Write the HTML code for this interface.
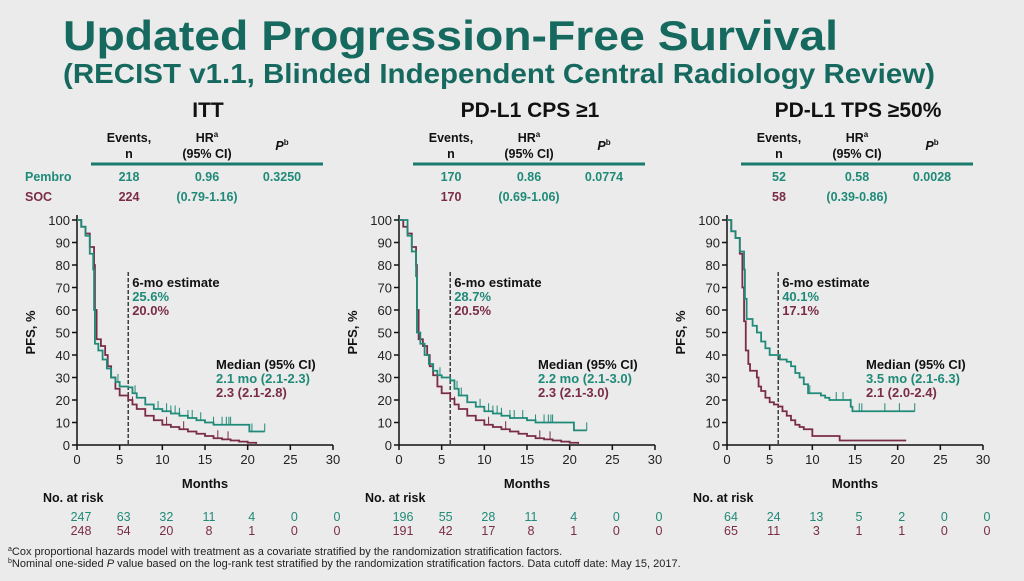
<!DOCTYPE html>
<html><head><meta charset="utf-8">
<style>
html,body{margin:0;padding:0;background:#ebebeb;}
body{width:1024px;height:576px;overflow:hidden;font-family:"Liberation Sans",Arial,sans-serif;}
svg text{font-family:"Liberation Sans",Arial,sans-serif;}
</style></head>
<body>
<svg id="chart" width="1024" height="576" viewBox="0 0 1024 576">
<rect x="0" y="0" width="1024" height="576" fill="#ebebeb"/>
<text x="63" y="50" font-size="42" font-weight="bold" fill="#16695f" textLength="775" lengthAdjust="spacingAndGlyphs">Updated Progression-Free Survival</text>
<text x="63" y="83" font-size="28" font-weight="bold" fill="#16695f" textLength="872" lengthAdjust="spacingAndGlyphs">(RECIST v1.1, Blinded Independent Central Radiology Review)</text>
<text x="8" y="555" font-size="11" fill="#222"><tspan font-size="7" dy="-4">a</tspan><tspan dy="4">Cox proportional hazards model with treatment as a covariate stratified by the randomization stratification factors.</tspan></text>
<text x="8" y="567" font-size="11" fill="#222"><tspan font-size="7" dy="-4">b</tspan><tspan dy="4">Nominal one-sided </tspan><tspan font-style="italic">P</tspan> value based on the log-rank test stratified by the randomization stratification factors. Data cutoff date: May 15, 2017.</text>
<g id="panels"></g>
</svg>
<script>
const TEAL = "#1f8a78", MAROON = "#7a2c47";
const panelTitles = ["ITT", "PD-L1 CPS \u22651", "PD-L1 TPS \u226550%"];
const eventsPembro = ["218", "170", "52"];
const eventsSOC = ["224", "170", "58"];
const hrValues = ["0.96", "0.86", "0.58"];
const hrCIs = ["(0.79-1.16)", "(0.69-1.06)", "(0.39-0.86)"];
const pValues = ["0.3250", "0.0774", "0.0028"];
const est6Pembro = ["25.6%", "28.7%", "40.1%"];
const est6SOC = ["20.0%", "20.5%", "17.1%"];
const medianPembro = ["2.1 mo (2.1-2.3)", "2.2 mo (2.1-3.0)", "3.5 mo (2.1-6.3)"];
const medianSOC = ["2.3 (2.1-2.8)", "2.3 (2.1-3.0)", "2.1 (2.0-2.4)"];
const xTicks = [0, 5, 10, 15, 20, 25, 30];
const yTicks = [0, 10, 20, 30, 40, 50, 60, 70, 80, 90, 100];
const riskPembro = [[247,63,32,11,4,0,0],[196,55,28,11,4,0,0],[64,24,13,5,2,0,0]];
const riskSOC = [[248,54,20,8,1,0,0],[191,42,17,8,1,0,0],[65,11,3,1,1,0,0]];

const ittPembroT = [0,0.5,1,1.5,1.9,2.0,2.1,2.5,3,3.5,4,4.5,5,6,6.5,7,8,9,10,11,12,13,14,15,16,20,20.2,22];
const ittPembroS = [100,97,93,85,78,60,45,42,38,34,30,28,26,25.6,23,21,18,16,15,14,13,12,11,10,9,9,6,6];
const ittSocT = [0,0.5,1,1.5,2,2.1,2.3,2.8,3.3,3.6,4,4.5,5,6,6.5,7,8,9,10,11,12,13,14,15,16,17,18,19,20,21];
const ittSocS = [100,97,94,88,80,60,47,44,40,35,30,25,22,20,18,16,13,11,9,8,7,6,5,4,3,2.5,2,1.5,1,0.5];
const cpsPembroT = [0,1,1.5,2,2.1,2.5,3,3.5,4,4.5,5,6,6.5,7,8,9,10,11,12,13,15,16,20,20.5,22];
const cpsPembroS = [100,93,86,75,50,45,40,36,33,31,30,28.7,25,22,19,17,15,14,13,12,11,10,10,6.5,6.5];
const cpsSocT = [0,0.5,1,1.5,2,2.1,2.3,2.8,3.3,3.6,4,4.5,5,6,6.5,7,8,9,10,11,12,13,14,15,16,17,18,19,20,21];
const cpsSocS = [100,97,94,88,80,60,47,44,40,35,31,26,23,20.5,18,16,13,11,9,8,7,6,5,4,3,2.5,2,1.5,1,0.5];
const tpsPembroT = [0,0.5,1,1.5,2,2.1,2.3,3,3.5,4,4.5,5,6,6.2,7,7.5,8,8.5,9,9.5,11,11.5,12,14,14.5,14.7,22];
const tpsPembroS = [100,95,92,86,78,65,56,53,50,46,43,40,40,38,37,35,32,30,27,23,22,21,20,20,17,15,15];
const tpsSocT = [0,0.5,1,1.5,1.8,2,2.2,2.5,2.7,3.5,3.7,4,4.5,5,5.5,6,6.5,7,7.5,8,8.5,9,10,13,13.2,21];
const tpsSocS = [100,95,92,85,70,55,42,36,33,30,26,24,21,19,18,17.1,15,13,11,9,8,7,4,4,2,2];
const ittPembroCens = [4.8,6.8,9.5,10.5,11,11.5,12,13,13.5,14.5,16,17,17.5,17.8,18,20.5,22];
const ittSocCens = [4.5,6.5,10.5,12.5,16.5,17.7];
const cpsPembroCens = [4.8,6.8,7.3,9.5,10.5,11,11.5,12,13,13.5,14.5,16,17,17.5,17.8,18,20.5,22];
const cpsSocCens = [4.5,6.5,10.5,12.5,16.5,17.7];
const tpsPembroCens = [9.7,12.8,13.6,14.5,15.5,15.8,18.5,20.2,22];
const tpsSocCens = [];

const pembroTimes = [ittPembroT, cpsPembroT, tpsPembroT];
const pembroSurv = [ittPembroS, cpsPembroS, tpsPembroS];
const socTimes = [ittSocT, cpsSocT, tpsSocT];
const socSurv = [ittSocS, cpsSocS, tpsSocS];
const pembroCens = [ittPembroCens, cpsPembroCens, tpsPembroCens];
const socCens = [ittSocCens, cpsSocCens, tpsSocCens];

const NS = "http://www.w3.org/2000/svg";
const root = document.getElementById("panels");
const panelX0 = [77, 399, 727];
const xw = 256, yTop = 220, yBot = 445;
function mk(tag, attrs, parent, txt){
  const e = document.createElementNS(NS, tag);
  for (const k in attrs) e.setAttribute(k, attrs[k]);
  if (txt !== undefined) e.textContent = txt;
  parent.appendChild(e);
  return e;
}
function interp(ts, ss, t){
  let v = ss[0];
  for (let i=0;i<ts.length;i++){ if (ts[i] <= t) v = ss[i]; }
  return v;
}
for (let p=0;p<3;p++){
  const x0 = panelX0[p];
  const X = m => x0 + m/30*xw;
  const Y = v => yBot - v/100*(yBot-yTop);
  const g = mk("g", {}, root);
  
  
  const t = mk("text", {x: x0+131, y:117, "font-size":21, "font-weight":"bold", fill:"#111", "text-anchor":"middle"}, g, panelTitles[p]);
  
  
  const tg = mk("g", {"font-size":12.5, "font-weight":"bold", "text-anchor":"middle"}, g);
  
  
  const cE = x0+52, cH = x0+130, cP = x0+205;
  mk("text",{x:cE,y:142,fill:"#111"},tg,"Events,");
  mk("text",{x:cE,y:158,fill:"#111"},tg,"n");
  const hr = mk("text",{x:cH,y:142,fill:"#111"},tg,"HR");
  mk("tspan",{"font-size":8,dy:-5},hr,"a");
  mk("text",{x:cH,y:158,fill:"#111"},tg,"(95% CI)");
  const pp = mk("text",{x:cP,y:150,fill:"#111","font-style":"italic"},tg,"P");
  mk("tspan",{"font-size":8,dy:-5,"font-style":"normal"},pp,"b");
  mk("line",{x1:x0+14,x2:x0+246,y1:164,y2:164,stroke:"#1a7a6c","stroke-width":3},tg);
  if (p===0){
    mk("text",{x:x0-52,y:181,fill:TEAL,"text-anchor":"start"},tg,"Pembro");
    mk("text",{x:x0-52,y:201,fill:MAROON,"text-anchor":"start"},tg,"SOC");
  }
  mk("text",{x:cE,y:181,fill:TEAL},tg,eventsPembro[p]);
  mk("text",{x:cE,y:201,fill:MAROON},tg,eventsSOC[p]);
  mk("text",{x:cH,y:181,fill:TEAL},tg,hrValues[p]);
  mk("text",{x:cH,y:201,fill:TEAL},tg,hrCIs[p]);
  mk("text",{x:cP,y:181,fill:TEAL},tg,pValues[p]);
  const ax = mk("g",{stroke:"#111","stroke-width":1.5},g);
  
  
  mk("line",{x1:x0,x2:x0,y1:yTop-5,y2:yBot},ax);
  mk("line",{x1:x0,x2:x0+xw,y1:yBot,y2:yBot},ax);
  const tl = mk("g",{"font-size":13,fill:"#222"},g);
  
  
  yTicks.forEach(v=>{
    mk("line",{x1:x0-5,x2:x0,y1:Y(v),y2:Y(v),stroke:"#111","stroke-width":1.5},ax);
    mk("text",{x:x0-7,y:Y(v)+5,"text-anchor":"end"},tl,String(v));
  });
  xTicks.forEach(v=>{
    mk("line",{x1:X(v),x2:X(v),y1:yBot,y2:yBot+5,stroke:"#111","stroke-width":1.5},ax);
    mk("text",{x:X(v),y:yBot+19,"text-anchor":"middle"},tl,String(v));
  });
  const yt = mk("text",{x:0,y:0,"font-size":13,"font-weight":"bold",fill:"#111","text-anchor":"middle",transform:`translate(${x0-42},${(yTop+yBot)/2}) rotate(-90)`},g,"PFS, %");
  
  
  const xt = mk("text",{x:X(15),y:488,"font-size":13,"font-weight":"bold",fill:"#111","text-anchor":"middle"},g,"Months");
  
  
  const ref = mk("line",{x1:X(6),x2:X(6),y1:272,y2:yBot,stroke:"#222","stroke-width":1.3,"stroke-dasharray":"4,2"},g);
  
  
  const series = [[socTimes[p],socSurv[p],socCens[p],MAROON,'soc'],[pembroTimes[p],pembroSurv[p],pembroCens[p],TEAL,'pembro']];
  series.forEach(([ts,ss,cs,col,nm])=>{
    let d = `M${X(ts[0])},${Y(ss[0])}`;
    for (let i=1;i<ts.length;i++){ d += `H${X(ts[i])}V${Y(ss[i])}`; }
    const path = mk("path",{d:d,fill:"none",stroke:col,"stroke-width":1.8},g);
    
    
    cs.forEach(c=>{
      const v = interp(ts,ss,c);
      const tk = mk("line",{x1:X(c),x2:X(c),y1:Y(v)-8,y2:Y(v),stroke:col,"stroke-width":1},g);
      
      
    });
  });
  const an = mk("g",{"font-size":13,"font-weight":"bold"},g);
  
  
  mk("text",{x:X(6)+4,y:287,fill:"#111"},an,"6-mo estimate");
  mk("text",{x:X(6)+4,y:301,fill:TEAL},an,est6Pembro[p]);
  mk("text",{x:X(6)+4,y:315,fill:MAROON},an,est6SOC[p]);
  mk("text",{x:x0+139,y:369,fill:"#111"},an,"Median (95% CI)");
  mk("text",{x:x0+139,y:383,fill:TEAL},an,medianPembro[p]);
  mk("text",{x:x0+139,y:397,fill:MAROON},an,medianSOC[p]);
  const rg = mk("g",{"font-size":12.5,"text-anchor":"middle"},g);
  
  
  mk("text",{x:x0-34,y:502,"font-weight":"bold",fill:"#111","text-anchor":"start"},rg,"No. at risk");
  xTicks.forEach((v,i)=>{
    mk("text",{x:X(v)+4,y:521,fill:TEAL},rg,String(riskPembro[p][i]));
    mk("text",{x:X(v)+4,y:535,fill:MAROON},rg,String(riskSOC[p][i]));
  });
}
</script>
</body></html>
